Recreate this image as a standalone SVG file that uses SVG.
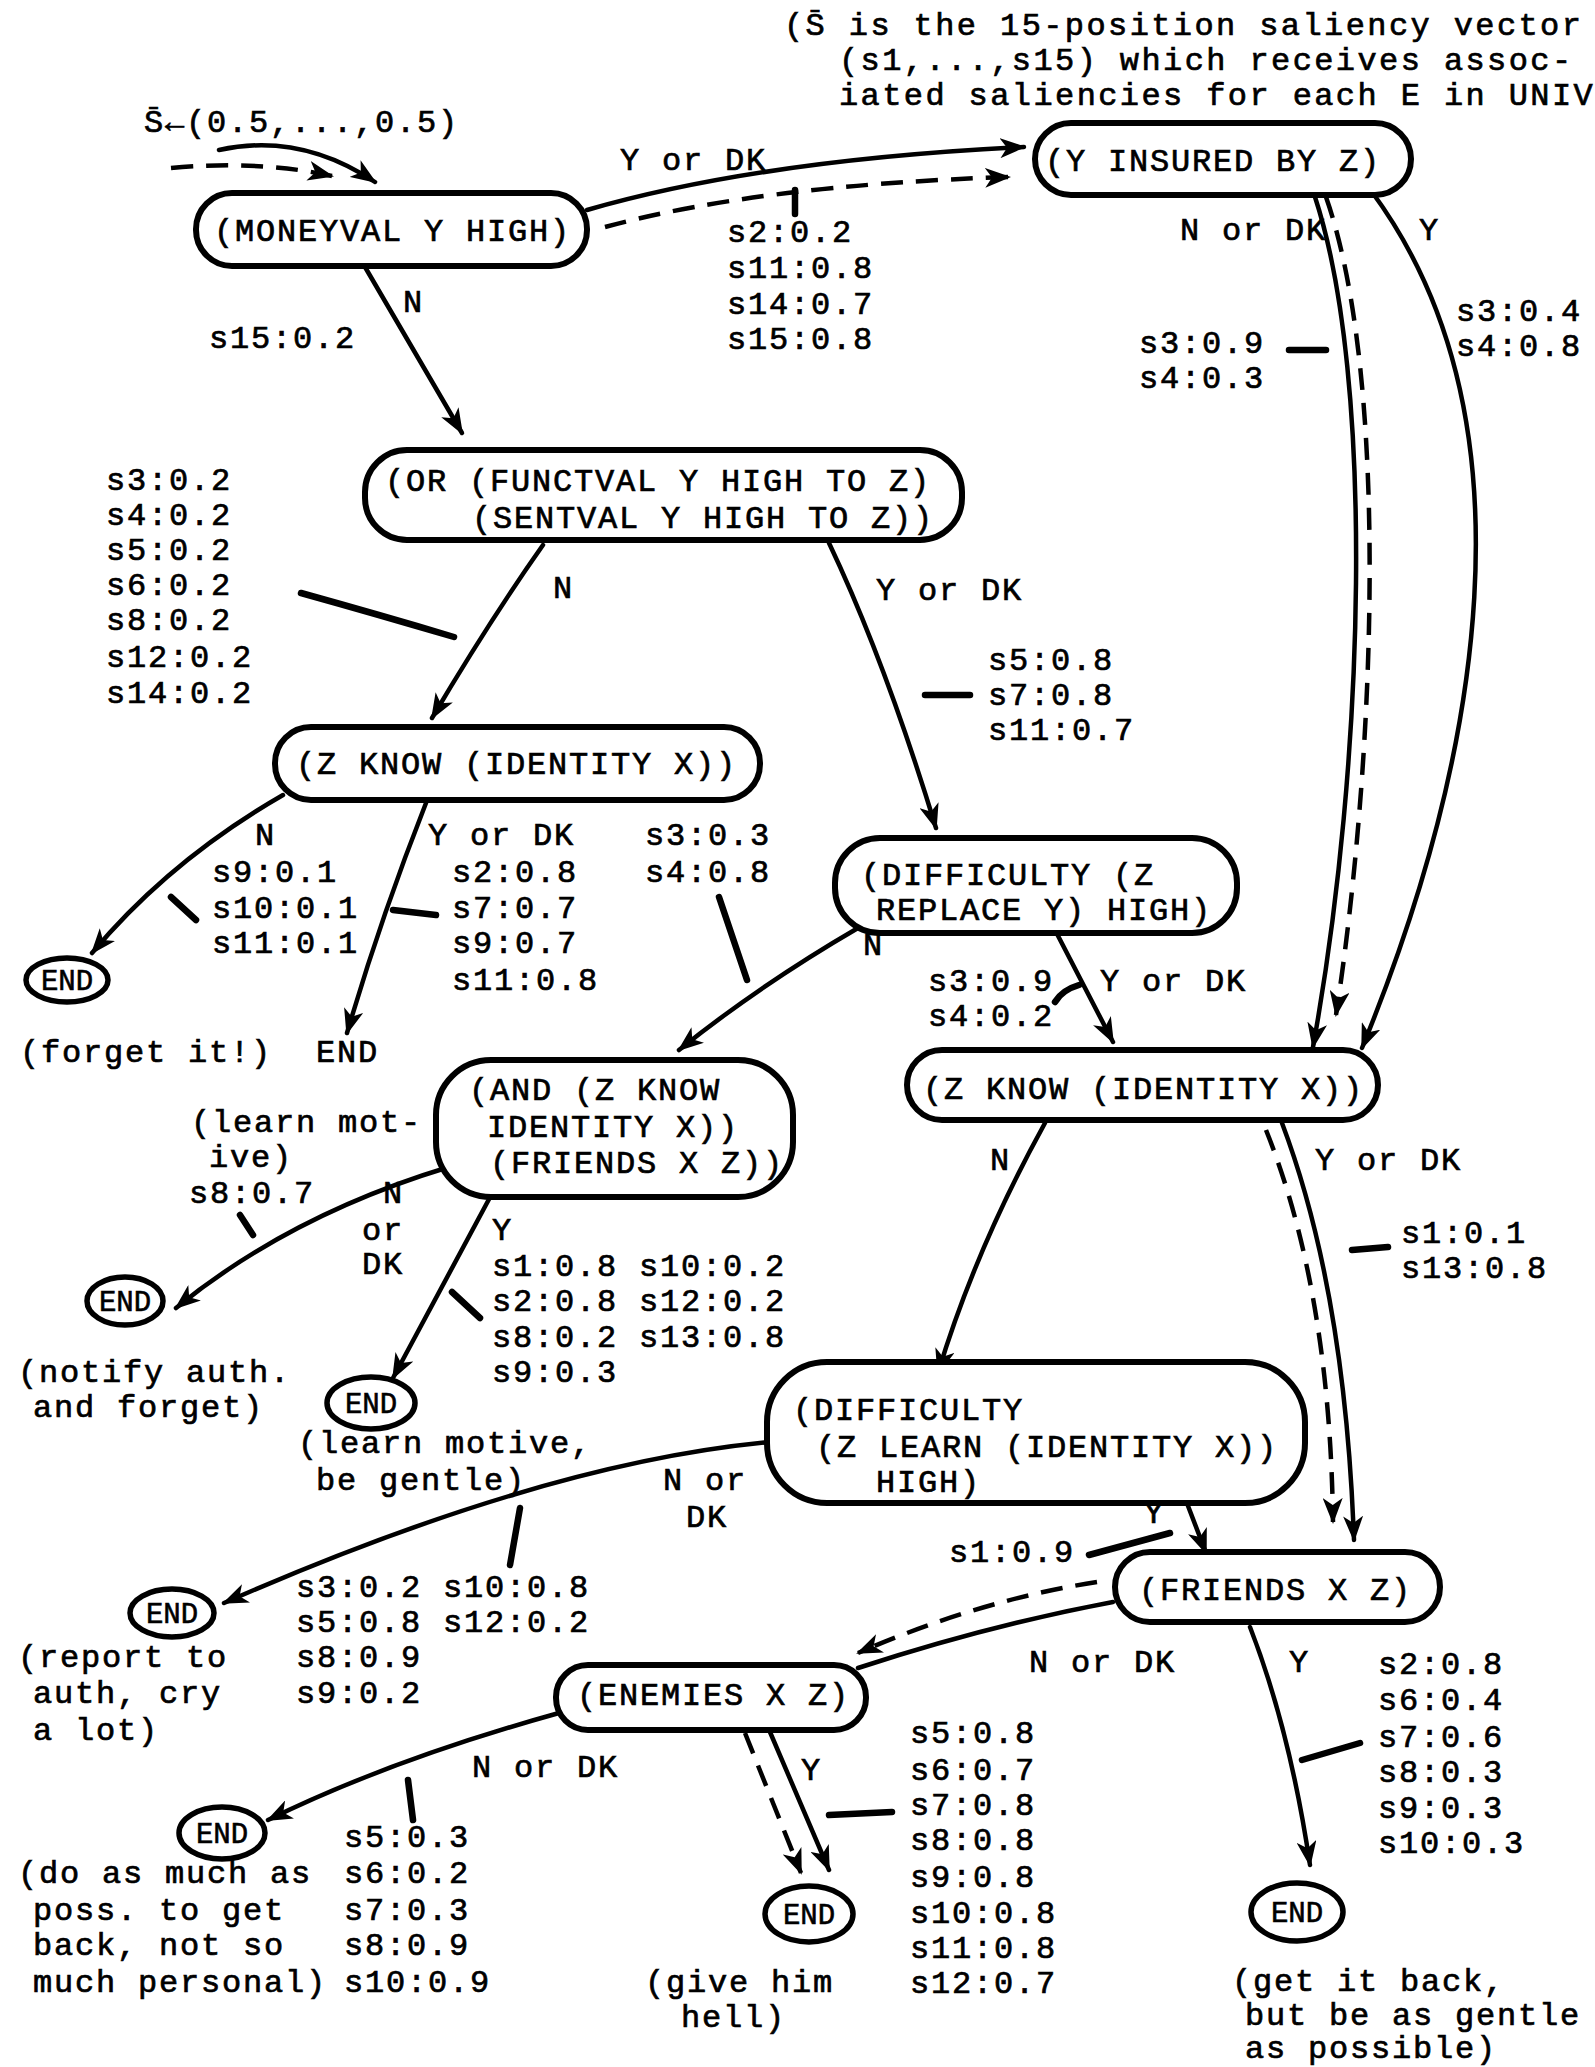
<svg xmlns="http://www.w3.org/2000/svg" width="1595" height="2067" viewBox="0 0 1595 2067">
<style>
.t{font-family:"Liberation Mono","Courier New",monospace;font-size:32px;letter-spacing:1.8px;fill:#000;stroke:#000;stroke-width:0.7px}
.w{letter-spacing:2.4px}
.e{font-family:"Liberation Mono","Courier New",monospace;font-size:29px;fill:#000;stroke:#000;stroke-width:0.6px;text-anchor:middle}
.box{fill:#fff;stroke:#000;stroke-width:6}
.end{fill:#fff;stroke:#000;stroke-width:5.5}
.c{fill:none;stroke:#000;stroke-width:4.5;stroke-linecap:round}
.d{fill:none;stroke:#000;stroke-width:4.5;stroke-dasharray:22 13}
.p{fill:none;stroke:#000;stroke-width:6.5;stroke-linecap:round}
</style>
<defs>
<marker id="ah" markerUnits="userSpaceOnUse" viewBox="0 0 26 20" refX="24" refY="10" markerWidth="26" markerHeight="20" orient="auto"><path d="M0,0 L26,10 L0,20 L7,10 z" fill="#000"/></marker>
</defs>
<rect width="1595" height="2067" fill="#fff"/>

<g id="connectors">
<path class="c" d="M219,150 Q300,132 375,182" marker-end="url(#ah)"/>
<path class="d" d="M171,168 Q260,160 332,176" marker-end="url(#ah)"/>
<path class="c" d="M587,210 Q760,160 1024,147" marker-end="url(#ah)"/>
<path class="d" d="M605,227 Q760,185 1009,177" marker-end="url(#ah)"/>
<path class="c" d="M365,267 L462,433" marker-end="url(#ah)"/>
<path class="c" d="M1315,197 C1375,380 1365,760 1313,1047" marker-end="url(#ah)"/>
<path class="d" d="M1326,197 C1390,380 1375,760 1336,1015" marker-end="url(#ah)"/>
<path class="c" d="M1372,192 C1540,420 1480,760 1362,1048" marker-end="url(#ah)"/>
<path class="c" d="M543,545 Q490,620 432,718" marker-end="url(#ah)"/>
<path class="c" d="M829,543 Q885,661 936,828" marker-end="url(#ah)"/>
<path class="c" d="M283,795 Q170,860 92,953" marker-end="url(#ah)"/>
<path class="c" d="M426,803 Q380,920 347,1033" marker-end="url(#ah)"/>
<path class="c" d="M858,928 Q760,985 679,1050" marker-end="url(#ah)"/>
<path class="c" d="M1055,930 L1113,1042" marker-end="url(#ah)"/>
<path class="c" d="M449,1167 Q290,1215 176,1308" marker-end="url(#ah)"/>
<path class="c" d="M495,1188 Q440,1290 393,1378" marker-end="url(#ah)"/>
<path class="c" d="M1045,1123 Q975,1250 938,1373" marker-end="url(#ah)"/>
<path class="c" d="M1282,1123 Q1345,1290 1354,1540" marker-end="url(#ah)"/>
<path class="d" d="M1266,1130 Q1330,1290 1333,1522" marker-end="url(#ah)"/>
<path class="c" d="M770,1442 Q543,1463 224,1603" marker-end="url(#ah)"/>
<path class="c" d="M1185,1498 L1206,1553" marker-end="url(#ah)"/>
<path class="c" d="M1113,1602 Q990,1625 858,1668"/>
<path class="d" d="M1097,1582 Q980,1600 858,1653" marker-end="url(#ah)"/>
<path class="c" d="M1250,1627 Q1290,1730 1310,1865" marker-end="url(#ah)"/>
<path class="c" d="M559,1713 Q390,1760 268,1820" marker-end="url(#ah)"/>
<path class="c" d="M770,1732 L829,1870" marker-end="url(#ah)"/>
<path class="d" d="M745,1733 L801,1873" marker-end="url(#ah)"/>
</g>

<g id="pointers">
<path class="p" d="M795,190 L795,214"/>
<path class="p" d="M1289,350 L1326,350"/>
<path class="p" d="M301,593 Q380,615 454,637"/>
<path class="p" d="M925,695 L970,695"/>
<path class="p" d="M171,897 L196,920"/>
<path class="p" d="M393,910 L436,915"/>
<path class="p" d="M719,897 L747,980"/>
<path class="p" d="M1055,1002 Q1062,990 1079,985"/>
<path class="p" d="M1352,1250 L1388,1247"/>
<path class="p" d="M240,1215 L253,1235"/>
<path class="p" d="M452,1292 L480,1318"/>
<path class="p" d="M520,1508 L510,1565"/>
<path class="p" d="M1089,1555 L1170,1533"/>
<path class="p" d="M1302,1760 L1360,1743"/>
<path class="p" d="M408,1780 L413,1820"/>
<path class="p" d="M829,1815 L892,1812"/>
</g>

<g id="n-moneyval"><rect class="box" x="196" y="193" width="391" height="73" rx="36"/><text class="t" x="214" y="241">(MONEYVAL Y HIGH)</text></g>
<g id="n-insured"><rect class="box" x="1035" y="123" width="376" height="72" rx="36"/><text class="t" x="1045" y="171">(Y INSURED BY Z)</text></g>
<g id="n-or"><rect class="box" x="365" y="450" width="597" height="90" rx="42"/><text class="t" x="385" y="491">(OR (FUNCTVAL Y HIGH TO Z)</text><text class="t" x="472" y="528">(SENTVAL Y HIGH TO Z))</text></g>
<g id="n-zknow1"><rect class="box" x="275" y="727" width="485" height="73" rx="36"/><text class="t" x="296" y="774">(Z KNOW (IDENTITY X))</text></g>
<g id="n-diffrep"><rect class="box" x="835" y="838" width="402" height="95" rx="45"/><text class="t" x="861" y="885">(DIFFICULTY (Z</text><text class="t" x="876" y="920">REPLACE Y) HIGH)</text></g>
<g id="n-zknow2"><rect class="box" x="907" y="1050" width="471" height="70" rx="35"/><text class="t" x="923" y="1099">(Z KNOW (IDENTITY X))</text></g>
<g id="n-and"><rect class="box" x="436" y="1060" width="357" height="137" rx="55"/><text class="t" x="469" y="1100">(AND (Z KNOW</text><text class="t" x="487" y="1137">IDENTITY X))</text><text class="t" x="490" y="1173">(FRIENDS X Z))</text></g>
<g id="n-difflearn"><rect class="box" x="767" y="1362" width="538" height="141" rx="60"/><text class="t" x="793" y="1420">(DIFFICULTY</text><text class="t" x="816" y="1457">(Z LEARN (IDENTITY X))</text><text class="t" x="876" y="1492">HIGH)</text></g>
<g id="n-friends"><rect class="box" x="1115" y="1552" width="325" height="70" rx="35"/><text class="t" x="1139" y="1600">(FRIENDS X Z)</text></g>
<g id="n-enemies"><rect class="box" x="556" y="1665" width="310" height="65" rx="32"/><text class="t" x="577" y="1705">(ENEMIES X Z)</text></g>

<g id="n-end1"><ellipse class="end" cx="67" cy="980" rx="41" ry="22"/><text class="e" x="67" y="990">END</text></g>
<g id="n-end2"><text class="t" x="316" y="1062">END</text></g>
<g id="n-end3"><ellipse class="end" cx="125" cy="1301" rx="38" ry="24"/><text class="e" x="125" y="1311">END</text></g>
<g id="n-end4"><ellipse class="end" cx="371" cy="1403" rx="44" ry="26"/><text class="e" x="371" y="1413">END</text></g>
<g id="n-end5"><ellipse class="end" cx="172" cy="1613" rx="42" ry="24"/><text class="e" x="172" y="1623">END</text></g>
<g id="n-end6"><ellipse class="end" cx="222" cy="1833" rx="43" ry="26"/><text class="e" x="222" y="1843">END</text></g>
<g id="n-end7"><ellipse class="end" cx="809" cy="1914" rx="44" ry="28"/><text class="e" x="809" y="1924">END</text></g>
<g id="n-end8"><ellipse class="end" cx="1297" cy="1912" rx="46" ry="29"/><text class="e" x="1297" y="1922">END</text></g>

<g id="labels">
<text class="t w" x="784" y="35">(S&#x0304; is the 15-position saliency vector</text>
<text class="t w" x="839" y="70">(s1,...,s15) which receives assoc-</text>
<text class="t w" x="839" y="105">iated saliencies for each E in UNIV</text>
<text class="t" x="144" y="132">S&#x0304;&#x2190;(0.5,...,0.5)</text>

<text class="t" x="620" y="170">Y or DK</text>
<text class="t" x="727"><tspan x="727" y="242">s2:0.2</tspan><tspan x="727" y="278">s11:0.8</tspan><tspan x="727" y="314">s14:0.7</tspan><tspan x="727" y="349">s15:0.8</tspan></text>
<text class="t" x="403" y="312">N</text>
<text class="t" x="209" y="348">s15:0.2</text>
<text class="t" x="1180" y="240">N or DK</text>
<text class="t" x="1419" y="240">Y</text>
<text class="t" x="1456"><tspan x="1456" y="321">s3:0.4</tspan><tspan x="1456" y="356">s4:0.8</tspan></text>
<text class="t" x="1139"><tspan x="1139" y="353">s3:0.9</tspan><tspan x="1139" y="388">s4:0.3</tspan></text>

<text class="t" x="106"><tspan x="106" y="490">s3:0.2</tspan><tspan x="106" y="525">s4:0.2</tspan><tspan x="106" y="560">s5:0.2</tspan><tspan x="106" y="595">s6:0.2</tspan><tspan x="106" y="630">s8:0.2</tspan><tspan x="106" y="667">s12:0.2</tspan><tspan x="106" y="703">s14:0.2</tspan></text>
<text class="t" x="553" y="598">N</text>
<text class="t" x="876" y="600">Y or DK</text>
<text class="t" x="988"><tspan x="988" y="670">s5:0.8</tspan><tspan x="988" y="705">s7:0.8</tspan><tspan x="988" y="740">s11:0.7</tspan></text>

<text class="t" x="255" y="845">N</text>
<text class="t" x="428" y="845">Y or DK</text>
<text class="t" x="645"><tspan x="645" y="845">s3:0.3</tspan><tspan x="645" y="882">s4:0.8</tspan></text>
<text class="t" x="212"><tspan x="212" y="882">s9:0.1</tspan><tspan x="212" y="918">s10:0.1</tspan><tspan x="212" y="953">s11:0.1</tspan></text>
<text class="t" x="452"><tspan x="452" y="882">s2:0.8</tspan><tspan x="452" y="918">s7:0.7</tspan><tspan x="452" y="953">s9:0.7</tspan><tspan x="452" y="990">s11:0.8</tspan></text>
<text class="t" x="20" y="1062">(forget it!)</text>

<text class="t" x="863" y="955">N</text>
<text class="t" x="928"><tspan x="928" y="991">s3:0.9</tspan><tspan x="928" y="1026">s4:0.2</tspan></text>
<text class="t" x="1100" y="991">Y or DK</text>

<text class="t" x="191"><tspan x="191" y="1132">(learn mot-</tspan><tspan x="209" y="1167">ive)</tspan><tspan x="189" y="1203">s8:0.7</tspan></text>
<text class="t" x="383" y="1203">N</text>
<text class="t" x="362"><tspan x="362" y="1240">or</tspan><tspan x="362" y="1274">DK</tspan></text>
<text class="t" x="492" y="1240">Y</text>
<text class="t" x="492"><tspan x="492" y="1276">s1:0.8 s10:0.2</tspan><tspan x="492" y="1311">s2:0.8 s12:0.2</tspan><tspan x="492" y="1347">s8:0.2 s13:0.8</tspan><tspan x="492" y="1382">s9:0.3</tspan></text>
<text class="t" x="990" y="1170">N</text>
<text class="t" x="1315" y="1170">Y or DK</text>
<text class="t" x="1401"><tspan x="1401" y="1243">s1:0.1</tspan><tspan x="1401" y="1278">s13:0.8</tspan></text>

<text class="t" x="18"><tspan x="18" y="1382">(notify auth.</tspan><tspan x="33" y="1417">and forget)</tspan></text>
<text class="t" x="298"><tspan x="298" y="1453">(learn motive,</tspan><tspan x="316" y="1490">be gentle)</tspan></text>
<text class="t" x="663"><tspan x="663" y="1490">N or</tspan><tspan x="686" y="1527">DK</tspan></text>
<text class="t" x="1144" y="1523">Y</text>
<text class="t" x="949" y="1562">s1:0.9</text>
<text class="t" x="296"><tspan x="296" y="1597">s3:0.2 s10:0.8</tspan><tspan x="296" y="1632">s5:0.8 s12:0.2</tspan><tspan x="296" y="1667">s8:0.9</tspan><tspan x="296" y="1703">s9:0.2</tspan></text>
<text class="t" x="18"><tspan x="18" y="1667">(report to</tspan><tspan x="33" y="1703">auth, cry</tspan><tspan x="33" y="1740">a lot)</tspan></text>

<text class="t" x="1029" y="1672">N or DK</text>
<text class="t" x="1289" y="1672">Y</text>
<text class="t" x="1378"><tspan x="1378" y="1674">s2:0.8</tspan><tspan x="1378" y="1710">s6:0.4</tspan><tspan x="1378" y="1747">s7:0.6</tspan><tspan x="1378" y="1782">s8:0.3</tspan><tspan x="1378" y="1818">s9:0.3</tspan><tspan x="1378" y="1853">s10:0.3</tspan></text>

<text class="t" x="472" y="1777">N or DK</text>
<text class="t" x="801" y="1780">Y</text>
<text class="t" x="910"><tspan x="910" y="1743">s5:0.8</tspan><tspan x="910" y="1780">s6:0.7</tspan><tspan x="910" y="1815">s7:0.8</tspan><tspan x="910" y="1850">s8:0.8</tspan><tspan x="910" y="1887">s9:0.8</tspan><tspan x="910" y="1923">s10:0.8</tspan><tspan x="910" y="1958">s11:0.8</tspan><tspan x="910" y="1993">s12:0.7</tspan></text>
<text class="t" x="344"><tspan x="344" y="1847">s5:0.3</tspan><tspan x="344" y="1883">s6:0.2</tspan><tspan x="344" y="1920">s7:0.3</tspan><tspan x="344" y="1955">s8:0.9</tspan><tspan x="344" y="1992">s10:0.9</tspan></text>
<text class="t" x="18"><tspan x="18" y="1883">(do as much as</tspan><tspan x="33" y="1920">poss. to get</tspan><tspan x="33" y="1955">back, not so</tspan><tspan x="33" y="1992">much personal)</tspan></text>
<text class="t" x="645"><tspan x="645" y="1992">(give him</tspan><tspan x="681" y="2027">hell)</tspan></text>
<text class="t" x="1232"><tspan x="1232" y="1991">(get it back,</tspan><tspan x="1245" y="2025">but be as gentle</tspan><tspan x="1245" y="2058">as possible)</tspan></text>
</g>
</svg>
